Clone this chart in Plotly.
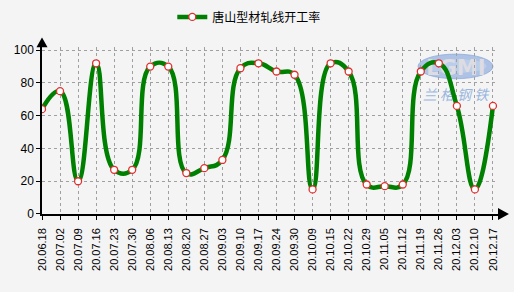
import plotly.graph_objects as go

dates = ["20.06.18", "20.07.02", "20.07.09", "20.07.16", "20.07.23", "20.07.30",
         "20.08.06", "20.08.13", "20.08.20", "20.08.27", "20.09.03", "20.09.10",
         "20.09.17", "20.09.24", "20.09.30", "20.10.09", "20.10.15", "20.10.22",
         "20.10.29", "20.11.05", "20.11.12", "20.11.19", "20.11.26", "20.12.03",
         "20.12.10", "20.12.17"]
rate = [64, 75, 20, 92, 27, 27, 90, 90, 25, 28, 33, 89, 92, 87, 85, 15, 92, 87,
        18, 17, 18, 87, 92, 66, 15, 66]
series_name = "唐山型材轧线开工率"
y_ticks = [0, 20, 40, 60, 80, 100]

xs = list(range(len(dates)))

fig = go.Figure()
fig.add_trace(go.Scatter(
    x=xs, y=rate, name=series_name, mode="lines+markers",
    line=dict(color="#008000", width=4.5, shape="spline", smoothing=1.3),
    marker=dict(size=7, color="white", line=dict(color="#e03030", width=1.3)),
))

bg = "#f4f4f4"
fig.update_layout(
    width=514, height=292,
    margin=dict(l=42, r=16, t=45, b=78),
    paper_bgcolor=bg, plot_bgcolor=bg,
    font=dict(family="Liberation Sans, Arial, sans-serif", color="#000", size=12),
    showlegend=True,
    legend=dict(orientation="h", x=0.485, xanchor="center", xref="container",
                y=0.942, yanchor="middle", yref="container",
                font=dict(family="Noto Sans CJK SC", size=12),
                bgcolor="rgba(0,0,0,0)"),
    xaxis=dict(
        range=[0, 25.28], tickmode="array", tickvals=xs, ticktext=dates,
        tickangle=-90, tickfont=dict(size=11), ticklabelstandoff=4,
        showgrid=True, gridcolor="#a0a0a0", griddash="dot", gridwidth=1,
        showline=True, linecolor="#000", linewidth=1.5,
        ticks="outside", ticklen=4, tickcolor="#000", zeroline=False,
    ),
    yaxis=dict(
        range=[0, 101.8], tickmode="array", tickvals=y_ticks,
        tickfont=dict(size=12),
        showgrid=True, gridcolor="#a0a0a0", griddash="dot", gridwidth=1,
        showline=True, linecolor="#000", linewidth=1.5,
        ticks="outside", ticklen=4, tickcolor="#000", zeroline=False,
    ),
)

# axis arrows (paper coordinates so they are not clipped)
fig.add_shape(type="path", xref="paper", yref="paper",
              path="M -0.0121,1 L 0.0121,1 L 0,1.059 Z",
              fillcolor="#000", line=dict(color="#000", width=0))
fig.add_shape(type="path", xref="paper", yref="paper",
              path="M 1,-0.0355 L 1,0.0355 L 1.024,0 Z",
              fillcolor="#000", line=dict(color="#000", width=0))

# watermark (drawn below the data line)
fig.add_shape(type="circle", xref="paper", yref="paper",
              x0=0.8246, x1=0.989, y0=0.811, y1=0.959,
              fillcolor="rgba(135,168,220,0.65)", line=dict(color="rgba(135,168,220,0.7)", width=1),
              layer="below")
fig.add_shape(type="circle", xref="paper", yref="paper",
              x0=0.84, x1=0.975, y0=0.845, y1=0.93,
              fillcolor="rgba(200,215,240,0.5)", line=dict(width=0),
              layer="below",
              label=dict(text="<b>LGMI</b>", textposition="middle center",
                         font=dict(size=21, color="#dcdce2", family="DejaVu Sans")))
fig.add_shape(type="rect", xref="paper", yref="paper",
              x0=0.8246, x1=0.989, y0=0.66, y1=0.75,
              fillcolor="rgba(0,0,0,0)", line=dict(width=0),
              layer="below",
              label=dict(text="<i>兰 格 钢 铁</i>", textposition="middle center",
                         font=dict(size=14, color="rgba(120,160,215,0.75)",
                                   family="Noto Sans CJK SC")))

fig.write_html("out.html")
